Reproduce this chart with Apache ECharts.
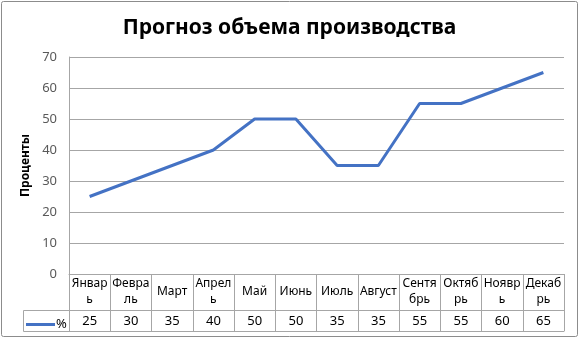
<!DOCTYPE html>
<html>
<head>
<meta charset="utf-8">
<script src="https://cdn.jsdelivr.net/npm/echarts@6/dist/echarts.min.js"></script>
<style>
  html, body { margin: 0; padding: 0; background: #fff; }
  #chart { width: 579px; height: 339px; }
</style>
</head>
<body>
<div id="chart"></div>
<script>
// Прогноз объема производства — линия + таблица данных под осью
var TITLE = 'Прогноз объема производства';
var Y_NAME = 'Проценты';
var SERIES_NAME = '%';
var MONTHS = ['Январ\nь', 'Февра\nль', 'Март', 'Апрел\nь', 'Май', 'Июнь', 'Июль', 'Август', 'Сентя\nбрь', 'Октяб\nрь', 'Ноявр\nь', 'Декаб\nрь'];
var VALUES = [25, 30, 35, 40, 50, 50, 35, 35, 55, 55, 60, 65];

var LINE_COLOR = '#4472C4';
var GRID_COLOR = '#A6A6A6';
var FONT = 'Noto Sans';

var chart = echarts.init(document.getElementById('chart'));

var cellAxis = function(data, offset, showLabel, margin, tickLen, fontSize) {
  return {
    type: 'category',
    data: data,
    position: 'bottom',
    offset: offset,
    boundaryGap: true,
    axisLine: { show: true, lineStyle: { color: GRID_COLOR, width: 1 } },
    axisTick: { show: tickLen > 0, length: tickLen, lineStyle: { color: GRID_COLOR, width: 1 } },
    axisLabel: {
      show: showLabel,
      interval: 0,
      margin: margin,
      verticalAlign: 'middle',
      lineHeight: 16,
      fontFamily: FONT,
      fontSize: fontSize || 12,
      color: '#000'
    },
    splitLine: { show: false }
  };
};

chart.setOption({
  animation: false,
  title: {
    text: TITLE,
    left: 'center',
    top: 13,
    textStyle: { fontFamily: FONT, fontWeight: 'bold', fontSize: 21, color: '#000' }
  },
  legend: {
    left: 21,
    top: 313,
    icon: 'rect',
    itemWidth: 29,
    itemHeight: 3,
    itemGap: 0,
    textStyle: { fontFamily: FONT, fontSize: 13, color: '#000', padding: [0, 0, 0, -4] },
    data: [SERIES_NAME]
  },
  grid: { left: 69, right: 15, top: 57, bottom: 65 },
  xAxis: [
    cellAxis(MONTHS, 0, true, 18, 57, 12),
    cellAxis(VALUES.map(String), 36, true, 11, 21, 13),
    cellAxis(MONTHS, 57, false, 0, 0)
  ],
  yAxis: {
    type: 'value',
    min: 0,
    max: 70,
    interval: 10,
    name: Y_NAME,
    nameLocation: 'middle',
    nameRotate: 90,
    nameGap: 33,
    nameTextStyle: { fontFamily: FONT, fontWeight: 'bold', fontSize: 12, color: '#000' },
    axisLine: { show: true, lineStyle: { color: GRID_COLOR, width: 1 } },
    axisTick: { show: false },
    axisLabel: { fontFamily: FONT, fontSize: 13, color: '#595959', margin: 12 },
    splitLine: { lineStyle: { color: GRID_COLOR, width: 1 } }
  },
  series: [{
    name: SERIES_NAME,
    type: 'line',
    xAxisIndex: 0,
    data: VALUES,
    symbol: 'none',
    showSymbol: false,
    lineStyle: { color: LINE_COLOR, width: 3 },
    itemStyle: { color: LINE_COLOR }
  }],
  graphic: [
    // рамка ячейки легенды слева от таблицы
    { type: 'rect', shape: { x: 23.5, y: 310.5, width: 46, height: 21 },
      style: { fill: 'none', stroke: GRID_COLOR, lineWidth: 1 }, silent: true },
    // внешняя рамка диаграммы
    { type: 'rect', shape: { x: 1.5, y: 1.5, width: 576, height: 335, r: 2 },
      style: { fill: 'none', stroke: '#8C8C8C', lineWidth: 1 }, silent: true }
  ]
});
</script>
</body>
</html>
